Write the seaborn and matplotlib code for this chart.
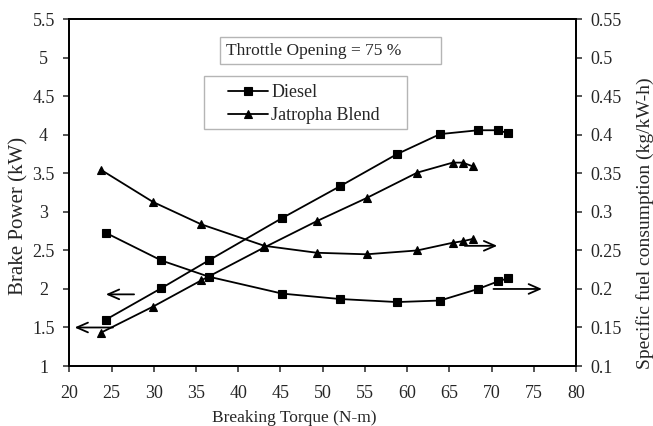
import numpy as np
import pandas as pd
import matplotlib
matplotlib.use("Agg")
import matplotlib.pyplot as plt
from matplotlib.patches import Rectangle
from matplotlib.lines import Line2D
import seaborn as sns

# Values
diesel_torque = [24.3, 30.9, 36.5, 45.2, 52.0, 58.8, 63.9, 68.4, 70.8, 72.0]
diesel_bp = [1.60, 2.01, 2.37, 2.92, 3.33, 3.75, 4.01, 4.06, 4.06, 4.02]
diesel_sfc = [0.273, 0.237, 0.216, 0.194, 0.187, 0.183, 0.185, 0.200, 0.210, 0.214]

jatropha_torque = [23.7, 29.9, 35.6, 43.1, 49.3, 55.2, 61.2, 65.4, 66.6, 67.8]
jatropha_bp = [1.43, 1.77, 2.11, 2.54, 2.88, 3.18, 3.51, 3.64, 3.64, 3.59]
jatropha_sfc = [0.355, 0.313, 0.284, 0.256, 0.247, 0.245, 0.250, 0.260, 0.262, 0.265]

fuels = ["Diesel", "Jatropha Blend"]
x_ticks = [20, 25, 30, 35, 40, 45, 50, 55, 60, 65, 70, 75, 80]
bp_ticks = [1, 1.5, 2, 2.5, 3, 3.5, 4, 4.5, 5, 5.5]
sfc_ticks = [0.1, 0.15, 0.2, 0.25, 0.3, 0.35, 0.4, 0.45, 0.5, 0.55]

# long table for seaborn
df = pd.DataFrame({
    "torque": diesel_torque + jatropha_torque,
    "bp": diesel_bp + jatropha_bp,
    "sfc": diesel_sfc + jatropha_sfc,
    "fuel": [fuels[0]] * len(diesel_torque) + [fuels[1]] * len(jatropha_torque),
})

sns.set_style("ticks")
plt.rcParams["font.family"] = ["Liberation Serif", "DejaVu Serif"]

fig = plt.figure(figsize=(6.53, 4.26), dpi=100)
ax = fig.add_axes([0.1061, 0.1408, 0.7760, 0.8139])
ax2 = ax.twinx()

marker_map = {"Diesel": "s", "Jatropha Blend": "^"}
line_kw = dict(color="black", linewidth=1.3, markersize=6.2,
               markeredgecolor="black", markerfacecolor="black", markeredgewidth=0.8)

sns.lineplot(data=df, x="torque", y="bp", style="fuel", markers=marker_map,
             dashes=False, errorbar=None, legend=False, ax=ax, **line_kw)
sns.lineplot(data=df, x="torque", y="sfc", style="fuel", markers=marker_map,
             dashes=False, errorbar=None, legend=False, ax=ax2, **line_kw)

ax.set_xlim(20, 80)
ax.set_ylim(1, 5.5)
ax2.set_ylim(0.1, 0.55)
ax.set_xticks(x_ticks)
ax.set_xticklabels([str(t) for t in x_ticks])
ax.set_yticks(bp_ticks)
ax.set_yticklabels([f"{t:g}" for t in bp_ticks])
ax2.set_yticks(sfc_ticks)
ax2.set_yticklabels([f"{t:g}" for t in sfc_ticks])

for a in (ax, ax2):
    for s in a.spines.values():
        s.set_linewidth(1.3)
        s.set_color("black")

ax.tick_params(axis="x", direction="out", length=4.5, width=1.1, labelsize=13, pad=9)
ax.tick_params(axis="y", direction="out", length=4.5, width=1.1, labelsize=13, pad=14)
ax2.tick_params(axis="y", direction="out", length=4.5, width=1.1, labelsize=13, pad=6)
plt.setp(ax.get_yticklabels(), ha="center")

ax.set_xlabel("Breaking Torque (N-m)", fontsize=12.5)
ax.xaxis.set_label_coords(0.444, -0.127)
ax.set_ylabel("Brake Power (kW)", fontsize=15)
ax.yaxis.set_label_coords(-0.0815, 0.432)
ax2.set_ylabel("")
ax2.text(1.118, 0.833, "Specific fuel consumption (kg/kW-h)", transform=ax2.transAxes,
         fontsize=14, rotation=90, rotation_mode="anchor", ha="right", va="top")

# title box
ax.add_patch(Rectangle((0.297, 0.870), 0.437, 0.078, transform=ax.transAxes,
                       facecolor="white", edgecolor="#b5b5b5", linewidth=1.0))
ax.text(0.309, 0.909, "Throttle Opening = 75 %", transform=ax.transAxes,
        fontsize=12.5, ha="left", va="center")

# legend with its own frame
ax.add_patch(Rectangle((0.266, 0.683), 0.4006, 0.153, transform=ax.transAxes,
                       facecolor="white", edgecolor="#b5b5b5", linewidth=1.0))
handles = [Line2D([], [], marker=marker_map[f], label=f, **line_kw) for f in fuels]
ax.legend(handles=handles, loc="upper left", bbox_to_anchor=(0.313, 0.812),
          borderaxespad=0, borderpad=0, frameon=False, fontsize=13,
          handlelength=2.2, handletextpad=0.2, labelspacing=0.32)

# direction arrows
arrow = dict(arrowstyle="->,head_length=0.8,head_width=0.35", color="black", lw=1.3)
ax.annotate("", xy=(24.0, 1.93), xytext=(28.0, 1.93), arrowprops=arrow)
ax.annotate("", xy=(20.3, 1.50), xytext=(25.5, 1.50), arrowprops=arrow)
ax2.annotate("", xy=(71.0, 0.256), xytext=(66.5, 0.256), arrowprops=arrow)
ax2.annotate("", xy=(76.3, 0.200), xytext=(69.9, 0.200), arrowprops=arrow)

fig.savefig("out.png", dpi=100)
